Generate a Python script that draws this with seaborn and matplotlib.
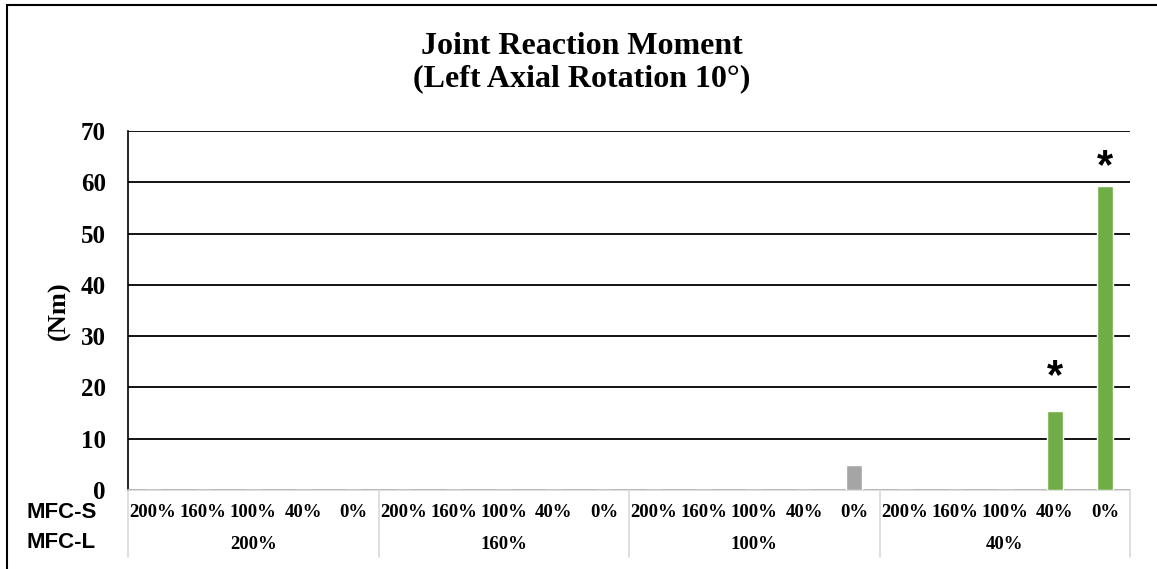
import pandas as pd
import seaborn as sns
import matplotlib.pyplot as plt
from matplotlib.patches import Rectangle
import matplotlib.transforms as mtransforms

# categories
mfc_l_groups = ['200%', '160%', '100%', '40%']
mfc_s_levels = ['200%', '160%', '100%', '40%', '0%']

# joint reaction moment (Nm) per MFC-L group, ordered like mfc_s_levels
moment_200 = [0, 0, 0, 0, 0]
moment_160 = [0, 0, 0, 0, 0]
moment_100 = [0, 0, 0, 0, 4.8]
moment_40 = [0, 0, 0, 15.5, 59.2]

group_colors = ['#4472C4', '#ED7D31', '#A5A5A5', '#70AD47']

# significant bars (MFC-L, MFC-S)
significant = [('40%', '40%'), ('40%', '0%')]
star_offsets = [24, 14]  # points above bar top

sns.set_theme(style='white')
plt.rcParams['font.family'] = ['Liberation Serif', 'DejaVu Serif']
plt.rcParams['font.weight'] = 'bold'
plt.rcParams['text.color'] = 'black'
plt.rcParams['axes.labelcolor'] = 'black'
plt.rcParams['xtick.color'] = 'black'
plt.rcParams['ytick.color'] = 'black'

rows = []
for grp, vals, col in zip(mfc_l_groups, [moment_200, moment_160, moment_100, moment_40], group_colors):
    for lvl, v in zip(mfc_s_levels, vals):
        rows.append({'key': f'{grp}|{lvl}', 'MFC-L': grp, 'MFC-S': lvl, 'Moment': v, 'color': col})
df = pd.DataFrame(rows)
palette = dict(zip(df['key'], df['color']))

fig = plt.figure(figsize=(11.57, 5.69), dpi=100)
ax = fig.add_axes([128 / 1157, 1 - 490 / 569, (1130 - 128) / 1157, (490 - 131) / 569])

sns.barplot(data=df, x='key', y='Moment', hue='key', palette=palette, legend=False,
            width=0.32, saturation=1, ax=ax, zorder=3)

ax.set_xlim(-0.5, len(df) - 0.5)
ax.set_ylim(0, 70)
ax.set_yticks(range(0, 71, 10))
ax.yaxis.grid(True, color='black', linewidth=1.3, zorder=0)
ax.set_axisbelow(True)
for s in ['top', 'right']:
    ax.spines[s].set_visible(False)
ax.spines['left'].set_color('black')
ax.spines['left'].set_linewidth(1.2)
ax.spines['bottom'].set_color('#D9D9D9')
ax.spines['bottom'].set_linewidth(1.2)
ax.tick_params(axis='y', length=0, pad=16, labelsize=18)
ax.tick_params(axis='x', length=0, pad=10, labelsize=13.5)
ax.set_xticks(range(len(df)))
ax.set_xticklabels(df['MFC-S'])
ax.set_xlabel('')
ax.set_ylabel('(Nm)', fontsize=19, fontweight='bold', labelpad=7)

# multi-level category axis
trans = mtransforms.blended_transform_factory(ax.transData, ax.transAxes)
n = len(mfc_s_levels)
for i in range(len(mfc_l_groups) + 1):
    ax.plot([i * n - 0.5, i * n - 0.5], [0, -0.187], color='#D9D9D9', lw=1.2,
            transform=trans, clip_on=False)
for i, grp in enumerate(mfc_l_groups):
    ax.text(i * n + (n - 1) / 2, -0.153, grp, transform=trans, ha='center', va='center',
            fontsize=13.5, fontweight='bold')

# significance stars
for (grp, lvl), off in zip(significant, star_offsets):
    idx = df.index[(df['MFC-L'] == grp) & (df['MFC-S'] == lvl)][0]
    ax.annotate('*', xy=(idx, df.loc[idx, 'Moment']), xytext=(0, off), textcoords='offset points',
                ha='center', va='center', fontsize=30, fontweight='bold', family='Liberation Sans')

fig.text(27 / 1157, 1 - 512 / 569, 'MFC-S', ha='left', va='center', fontsize=16,
         fontweight='bold', family='Liberation Sans')
fig.text(27 / 1157, 1 - 542 / 569, 'MFC-L', ha='left', va='center', fontsize=16,
         fontweight='bold', family='Liberation Sans')

fig.text(0.503, 1 - 63 / 569, 'Joint Reaction Moment\n(Left Axial Rotation 10°)', ha='center',
         va='center', fontsize=23, fontweight='bold', linespacing=1.15)

# chart frame (cropped at right/bottom)
fig.patches.append(Rectangle((7 / 1157, -0.2), 1.5, 1.2 - 5 / 569, transform=fig.transFigure,
                             fill=False, edgecolor='black', lw=1.5))

fig.savefig('out.png', dpi=100)
